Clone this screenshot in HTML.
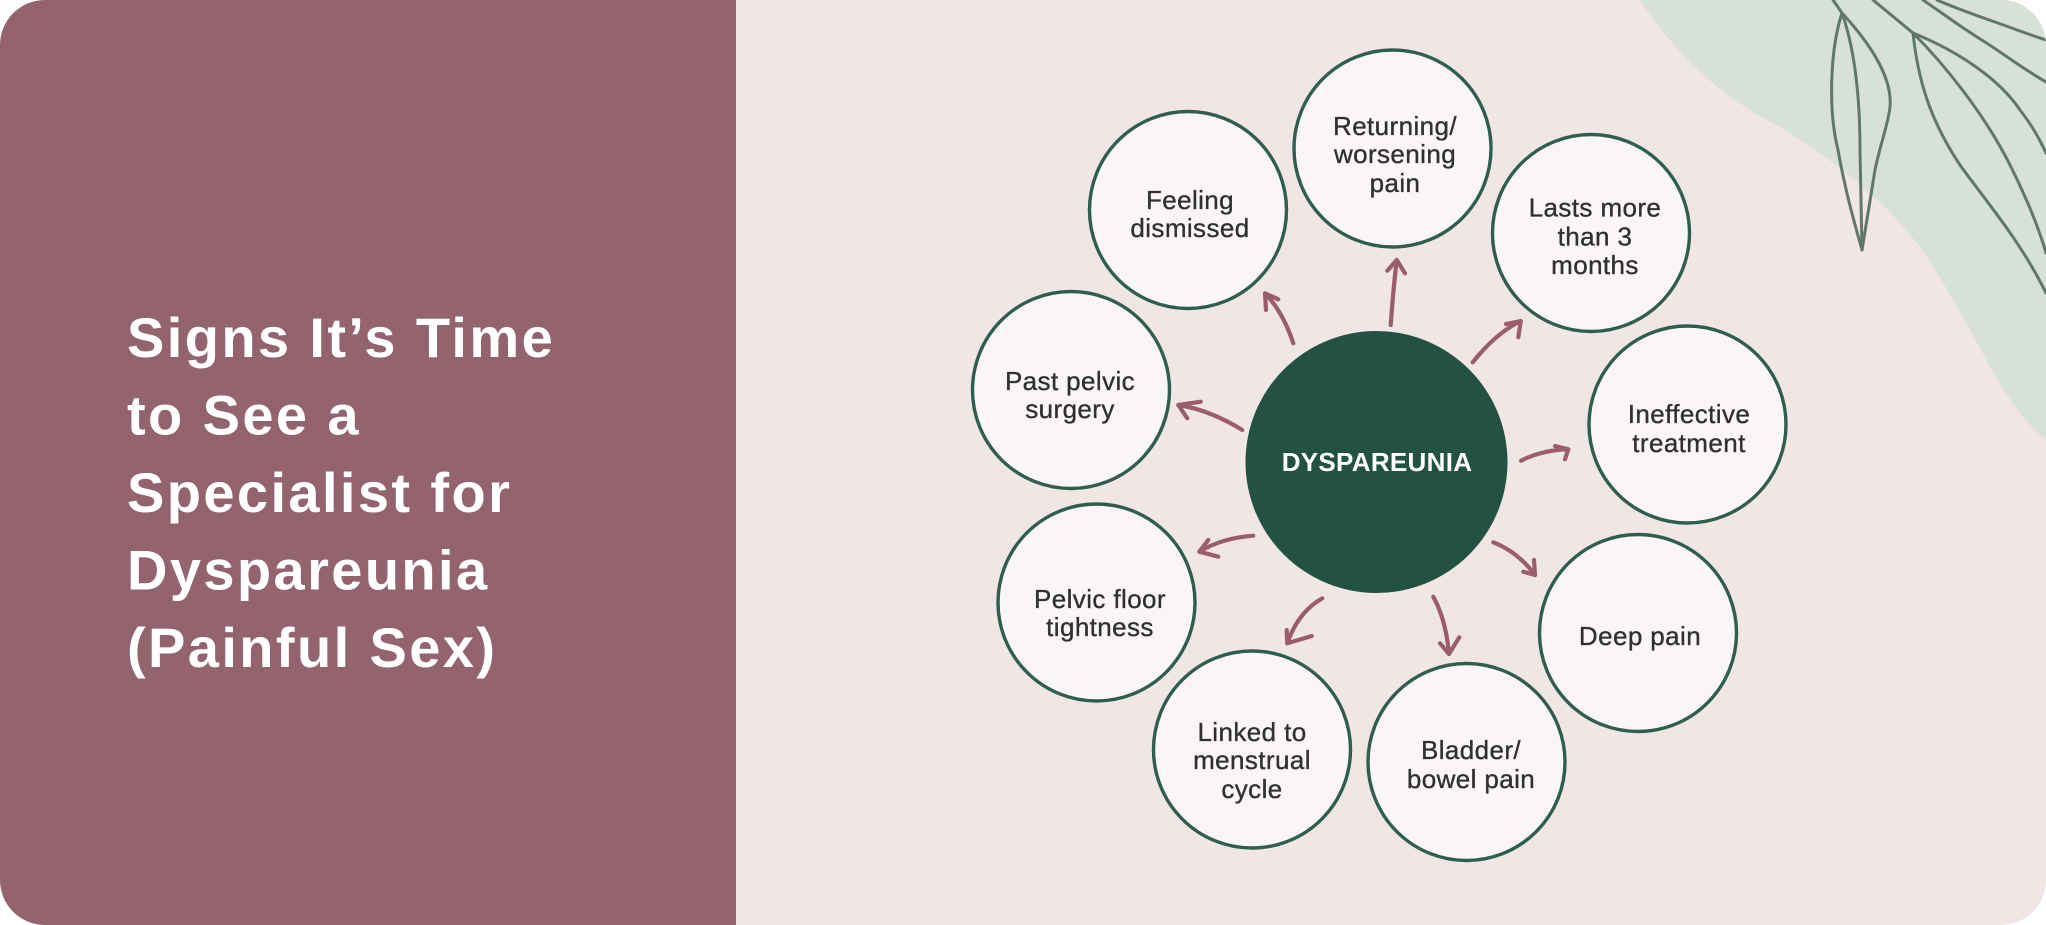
<!DOCTYPE html>
<html>
<head>
<meta charset="utf-8">
<style>
  html, body { margin: 0; padding: 0; background: #ffffff; }
  svg { display: block; }
  .t { font-family: "Liberation Sans", Arial, sans-serif; font-size: 26px; fill: #303030; stroke: #303030; stroke-width: 0.35px; letter-spacing: 0.4px; text-anchor: middle; }
  .title { font-family: "Liberation Sans", Arial, sans-serif; font-weight: bold; font-size: 56px; fill: #ffffff; letter-spacing: 2.4px; }
  .sat { fill: #faf5f6; stroke: #2f5e4f; stroke-width: 3.4; }
  .arr { fill: none; stroke: #9b5d6c; stroke-width: 4.2; stroke-linecap: round; stroke-linejoin: round; }
  .leaf { fill: none; stroke: #62776c; stroke-width: 3; stroke-linecap: round; stroke-linejoin: round; }
</style>
</head>
<body>
<svg width="2046" height="925" viewBox="0 0 2046 925" xmlns="http://www.w3.org/2000/svg">
  <defs>
    <clipPath id="card">
      <rect x="0" y="0" width="2046" height="925" rx="45" ry="45"/>
    </clipPath>
  </defs>

  <g clip-path="url(#card)">
    <rect x="0" y="0" width="2046" height="925" fill="#efe6e5"/>
    <rect x="0" y="0" width="736" height="925" fill="#93646f"/>

    <path d="M1640,0 C1680,60 1722,97 1780,127 C1830,158 1880,195 1920,247 C1950,290 1972,335 1995,375 C2012,405 2028,425 2046,440 L2046,0 Z" fill="#d7e1d7"/>

    <path class="leaf" d="M1833,0 L1842,13"/>
    <path class="leaf" d="M1842,13 C1830,50 1828,110 1838,150 C1845,190 1855,225 1862,250"/>
    <path class="leaf" d="M1842,13 C1865,38 1893,75 1890,107 C1888,125 1880,145 1875,170 C1870,200 1865,230 1862,250"/>
    <path class="leaf" d="M1842,13 C1855,50 1860,100 1860,150 L1862,250"/>

    <path class="leaf" d="M1873,0 L1913,33"/>
    <path class="leaf" d="M1913,33 C1918,80 1930,120 1960,165 C1985,200 2020,240 2046,293"/>
    <path class="leaf" d="M1913,33 C1945,65 1985,115 2010,165 C2025,195 2038,225 2046,253"/>
    <path class="leaf" d="M1913,33 C1960,52 2000,80 2020,110 C2032,125 2040,140 2046,153"/>
    <path class="leaf" d="M1923,0 C1945,15 1965,30 1985,42 C2005,55 2025,70 2046,82"/>
    <path class="leaf" d="M1937,0 C1955,8 1975,15 1995,22 C2015,29 2030,35 2046,40"/>
  </g>

  <text class="title" x="127" y="357">Signs It’s Time</text>
  <text class="title" x="127" y="434.5">to See a</text>
  <text class="title" x="127" y="512">Specialist for</text>
  <text class="title" x="127" y="589.5">Dyspareunia</text>
  <text class="title" x="127" y="667">(Painful Sex)</text>

  <circle class="sat" cx="1188" cy="210" r="98.5"/>
  <circle class="sat" cx="1392.5" cy="148.5" r="98.5"/>
  <circle class="sat" cx="1591" cy="233" r="98.5"/>
  <circle class="sat" cx="1071" cy="390" r="98.5"/>
  <circle class="sat" cx="1687.5" cy="424.5" r="98.5"/>
  <circle class="sat" cx="1096.5" cy="602.5" r="98.5"/>
  <circle class="sat" cx="1252" cy="749.5" r="98.5"/>
  <circle class="sat" cx="1466.5" cy="762" r="98.5"/>
  <circle class="sat" cx="1638" cy="633" r="98.5"/>

  <circle cx="1376.5" cy="462" r="131" fill="#235242"/>
  <text x="1377" y="471" text-anchor="middle" font-family="Liberation Sans, Arial, sans-serif" font-weight="bold" font-size="26" fill="#ffffff" letter-spacing="0.3">DYSPAREUNIA</text>

  <path class="arr" d="M1293.3,343.3 Q1283,312 1265,293.3"/>
  <path class="arr" d="M1278.3,299.3 L1265,293.3 L1266,310"/>

  <path class="arr" d="M1390.7,325 Q1393,292 1396.7,260"/>
  <path class="arr" d="M1387.3,270.7 L1396.7,260 L1405,273.3"/>

  <path class="arr" d="M1472.7,362.3 Q1496,333 1520.7,321"/>
  <path class="arr" d="M1506,324 L1520.7,321 L1518.3,337.3"/>

  <path class="arr" d="M1242.3,430 Q1210,410 1178.3,405"/>
  <path class="arr" d="M1200.7,401.7 L1178.3,405 L1187.3,418.3"/>

  <path class="arr" d="M1521,460.7 Q1542,450 1568.3,449.3"/>
  <path class="arr" d="M1555,446 L1568.3,449.3 L1565,459.3"/>

  <path class="arr" d="M1253.3,535.7 Q1222,538 1199.3,551.7"/>
  <path class="arr" d="M1208.3,540 L1199.3,551.7 L1218.3,556.7"/>

  <path class="arr" d="M1322.3,598.3 Q1298,612 1287.3,643.3"/>
  <path class="arr" d="M1286.7,630 L1287.3,643.3 L1311.7,636"/>

  <path class="arr" d="M1433.3,596.7 Q1446,620 1449,654"/>
  <path class="arr" d="M1440,643.3 L1449,654 L1459.3,637.3"/>

  <path class="arr" d="M1493.3,542.3 Q1518,552 1535,575"/>
  <path class="arr" d="M1523.3,571.7 L1535,575 L1534,560"/>

  <text class="t" x="1190" y="209">Feeling</text>
  <text class="t" x="1190" y="237">dismissed</text>

  <text class="t" x="1395" y="135">Returning/</text>
  <text class="t" x="1395" y="163">worsening</text>
  <text class="t" x="1395" y="192">pain</text>

  <text class="t" x="1595" y="216.5">Lasts more</text>
  <text class="t" x="1595" y="245.5">than 3</text>
  <text class="t" x="1595" y="274">months</text>

  <text class="t" x="1070" y="390">Past pelvic</text>
  <text class="t" x="1070" y="418">surgery</text>

  <text class="t" x="1689" y="423">Ineffective</text>
  <text class="t" x="1689" y="452">treatment</text>

  <text class="t" x="1100" y="608">Pelvic floor</text>
  <text class="t" x="1100" y="636">tightness</text>

  <text class="t" x="1252" y="741">Linked to</text>
  <text class="t" x="1252" y="769">menstrual</text>
  <text class="t" x="1252" y="798">cycle</text>

  <text class="t" x="1471" y="759">Bladder/</text>
  <text class="t" x="1471" y="788">bowel pain</text>

  <text class="t" x="1640" y="645">Deep pain</text>
</svg>
</body>
</html>
